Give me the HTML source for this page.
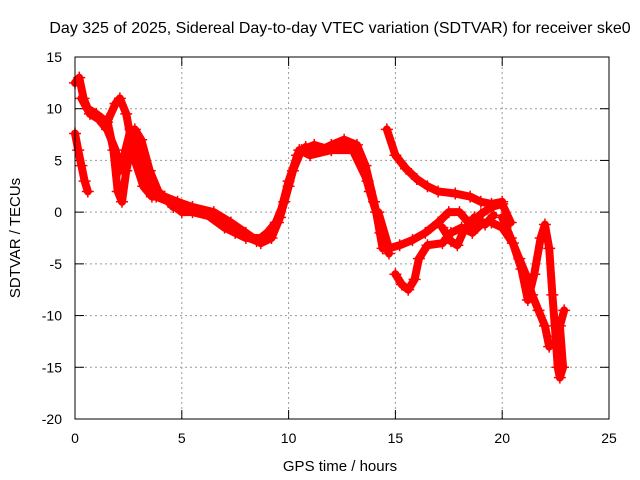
<!DOCTYPE html>
<html><head><meta charset="utf-8"><style>
body{margin:0;background:#fff}
svg{display:block;font-family:"Liberation Sans",sans-serif}
</style></head><body>
<svg id="chart" width="640" height="480">
<text x="340" y="33" font-size="16" text-anchor="middle">Day 325 of 2025, Sidereal Day-to-day VTEC variation (SDTVAR) for receiver ske0</text>
<text x="340" y="471" font-size="15" text-anchor="middle">GPS time / hours</text>
<text x="20" y="238" font-size="15" text-anchor="middle" transform="rotate(-90 20 238)">SDTVAR / TECUs</text>
<g id="grid"></g>
<g id="ticks"></g>
<g id="series"></g>
<rect x="75" y="57" width="534" height="362" fill="none" stroke="#000" stroke-width="1"/>
</svg>
<script>
const xTicks=[0,5,10,15,20,25];
const yTicks=[15,10,5,0,-5,-10,-15,-20];
const trackA=[[0.0,7.6],[0.15,6],[0.3,4.5],[0.45,3],[0.6,2]];
const trackB=[[0.0,12.5],[0.2,13],[0.4,11],[0.6,10],[1.0,9.5],[1.5,8.7],[1.9,10.5],[2.1,11],[2.4,9.5],[2.8,5],[3.2,2.5],[3.6,1.5],[4.2,1.5],[4.8,1],[5.5,0.5],[6.5,0],[7.3,-1],[8,-2],[8.7,-3],[9.2,-2.5],[9.6,-0.5],[10,2.5],[10.4,5.5],[10.8,6.3],[11.5,6],[12,6.5],[12.6,7],[13.2,6.5],[13.6,4.5],[14,1],[14.3,-2],[14.7,-4]];
const trackB2=[[0.3,11],[0.7,9.5],[1.1,9],[1.5,8],[1.9,6],[2.1,4],[2.3,5.5],[2.6,8],[3,6],[3.4,3],[3.8,1.5],[4.4,1],[5,0],[6,0],[7,-1.5],[8,-2.5],[8.8,-2.5],[9.4,-1],[9.8,1],[10.2,4],[10.6,6],[11.2,6.5],[12,6],[12.8,6.5],[13.4,5],[13.8,2],[14.1,0],[14.4,-3.5]];
const trackB3=[[1.5,9],[1.8,6],[2.0,2],[2.2,1],[2.4,4],[2.8,8],[3.1,7],[3.5,4],[3.9,2],[4.6,0.5],[5.5,0],[6.5,-0.5],[7.5,-2],[8.5,-2.8],[9,-2],[9.5,-1],[10,3],[10.5,6],[11,5.5],[12,6],[13,6],[13.7,3]];
const trackC=[[14.6,8],[15,5.5],[15.5,4.2],[16,3.2],[16.5,2.5],[17,2],[17.8,1.8],[18.5,1.5],[19,1],[19.5,0.8],[20,1]];
const trackD=[[14.2,0],[14.7,-3.5],[15.2,-3.2],[15.8,-2.7],[16.4,-2],[17,-1],[17.5,0],[18,0],[18.5,-1.2],[19,-0.2],[19.5,0.5],[20,0.8],[20.4,-1]];
const trackE=[[15,-6],[15.3,-7],[15.6,-7.5],[15.9,-6.5],[16.1,-4.5],[16.5,-3.2],[17.2,-3],[17.6,-2],[18.1,-1.5],[18.6,-2],[19.1,-1]];
const trackF=[[17.2,-1.5],[17.6,-2.8],[17.9,-3.2],[18.2,-1.8],[18.7,-0.5],[19.2,-1.2],[19.6,-0.3]];
const trackG=[[19.5,-1],[20,-1.5],[20.5,-3],[20.9,-5.5],[21.2,-8.5],[21.5,-6],[21.8,-2.5],[22.0,-1.2],[22.2,-3.5],[22.35,-8],[22.5,-12],[22.6,-15],[22.7,-16],[22.85,-15],[22.7,-11],[22.9,-9.5]];
const trackH=[[20,-0.5],[20.4,-2.5],[20.8,-4.5],[21.1,-6],[21.4,-8],[21.7,-9.5],[22,-11],[22.2,-13]];
const tracks=[trackA,trackB,trackB2,trackB3,trackC,trackD,trackE,trackF,trackG,trackH];
const NS="http://www.w3.org/2000/svg";
const xs=h=>75+h*534/25;
const ys=v=>57+(15-v)*362/35;
function mk(tag,attrs,parent){const e=document.createElementNS(NS,tag);for(const k in attrs)e.setAttribute(k,attrs[k]);parent.appendChild(e);return e;}
const grid=document.getElementById('grid'),ticks=document.getElementById('ticks'),ser=document.getElementById('series');
xTicks.forEach(t=>{
  const x=xs(t);
  if(t>0&&t<25){const g=mk('line',{x1:x,x2:x,y1:57,y2:419,stroke:'#999','stroke-dasharray':'2,3'},grid);
  
  }
  mk('line',{x1:x,x2:x,y1:419,y2:410,stroke:'#000'},ticks);
  mk('line',{x1:x,x2:x,y1:57,y2:66,stroke:'#000'},ticks);
  const l=mk('text',{x:x,y:443,'font-size':14,'text-anchor':'middle'},ticks);l.textContent=t;
  
  
});
yTicks.forEach(t=>{
  const y=ys(t);
  if(t<15&&t>-20){const g=mk('line',{x1:75,x2:609,y1:y,y2:y,stroke:'#999','stroke-dasharray':'2,3'},grid);
  
  }
  mk('line',{x1:75,x2:84,y1:y,y2:y,stroke:'#000'},ticks);
  mk('line',{x1:600,x2:609,y1:y,y2:y,stroke:'#000'},ticks);
  const l=mk('text',{x:62,y:y+5,'font-size':14,'text-anchor':'end'},ticks);l.textContent=t;
  
  
});
tracks.forEach(tr=>{
  const p=mk('polyline',{points:tr.map(d=>xs(d[0])+','+ys(d[1])).join(' '),fill:'none',stroke:'#f00','stroke-width':8,'stroke-linejoin':'round','stroke-linecap':'round'},ser);
  
  
  tr.forEach(d=>{
    const x=xs(d[0]),y=ys(d[1]);
    const m=mk('path',{d:`M${x-6},${y}H${x+6}M${x},${y-6}V${y+6}`,stroke:'#f00','stroke-width':1.5},ser);
    
    
  });
});
</script>
</body></html>
